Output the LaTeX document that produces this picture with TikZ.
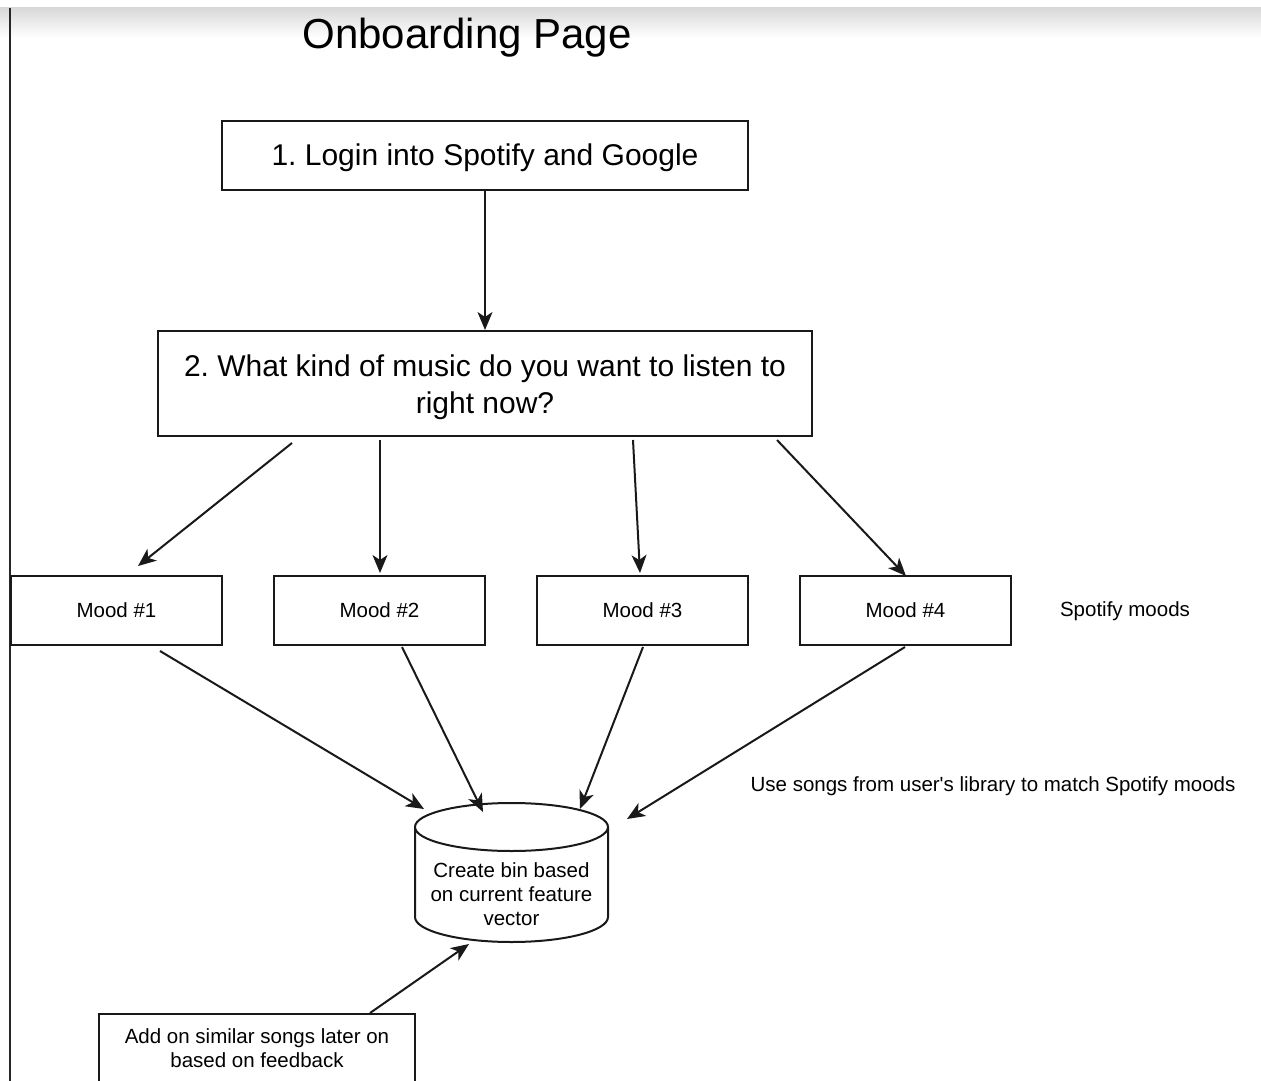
\documentclass[tikz,border=0pt]{standalone}
\usepackage{fontspec}
\setmainfont{Liberation Sans}
\usetikzlibrary{arrows.meta,calc}
\frenchspacing
\begin{document}
\begin{tikzpicture}[x=1pt,y=-1pt,
  box/.style={draw=black!90, line width=2pt, fill=white, inner sep=0pt, align=center},
  big/.style={font=\fontsize{30}{37}\selectfont},
  small/.style={font=\fontsize{20.5}{24}\selectfont},
  conn/.style={draw=black!90, line width=2pt, -{Stealth[length=18pt,width=15pt,inset=5pt]}}]
\useasboundingbox (0,0) rectangle (1261,1081);
\clip (0,0) rectangle (1261,1081);
\fill[white] (0,0) rectangle (1261,1081);
\shade[top color=black!15, bottom color=white] (0,8) rectangle (1261,38);
\draw[line width=2.2pt, black!85] (10,8) -- (10,1081);

\node[font=\fontsize{42}{48}\selectfont] (title) at (467,38) {Onboarding Page};

\node[box, minimum width=526, minimum height=69] (b1) at (485,155.5) {};
\node[big] (b1t) at (485,157.5) {1. Login into Spotify and Google};
\node[box, minimum width=654, minimum height=105] (b2) at (485,383.5) {};
\node[big, align=center] (b2t) at (485,387) {2. What kind of music do you want to listen to\\right now?};

\node[box, small, minimum width=211, minimum height=69] (m1) at (116.5,610.5) {Mood \#1};
\node[box, small, minimum width=211, minimum height=69] (m2) at (379.5,610.5) {Mood \#2};
\node[box, small, minimum width=211, minimum height=69] (m3) at (642.5,610.5) {Mood \#3};
\node[box, small, minimum width=211, minimum height=69] (m4) at (905.5,610.5) {Mood \#4};

\node[small] (sm) at (1125,611) {Spotify moods};
\node[small] (use) at (993,786) {Use songs from user\textquotesingle s library to match Spotify moods};

% cylinder
\draw[line width=2pt, draw=black!90, fill=white] (415,827) -- (415,917) arc[start angle=180, end angle=0, x radius=96.5, y radius=25] -- (608,827);
\draw[line width=2pt, draw=black!90, fill=white] (511.5,827) ellipse[x radius=96.5, y radius=24];
\node[small, align=center] (cyl) at (511.5,894) {Create bin based\\on current feature\\vector};

\node[box, minimum width=316, minimum height=110, anchor=north] (b5) at (257,1013) {};
\node[small, align=center] (b5t) at (257,1048) {Add on similar songs later on\\based on feedback};

% connector end points
\coordinate (c1s) at (292,443);
\coordinate (c1e) at (138,566);
\coordinate (c2s) at (380,440);
\coordinate (c2e) at (380,573);
\coordinate (c3s) at (633,440);
\coordinate (c3e) at (640,573);
\coordinate (c4s) at (777,440);
\coordinate (c4e) at (906,576);
\coordinate (d1s) at (160,651);
\coordinate (d1e) at (424,809);
\coordinate (d2s) at (402,647);
\coordinate (d2e) at (483,812);
\coordinate (d3s) at (643,647);
\coordinate (d3e) at (580,809);
\coordinate (d4s) at (905,647);
\coordinate (d4e) at (627,819);
\coordinate (e1s) at (370,1013);
\coordinate (e1e) at (469,944);

\draw[conn] (b1.south) -- (b2.north);
\draw[conn] (c1s) -- (c1e);
\draw[conn] (c2s) -- (c2e);
\draw[conn] (c3s) -- (c3e);
\draw[conn] (c4s) -- (c4e);
\draw[conn] (d1s) -- (d1e);
\draw[conn] (d2s) -- (d2e);
\draw[conn] (d3s) -- (d3e);
\draw[conn] (d4s) -- (d4e);
\draw[conn] (e1s) -- (e1e);
\end{tikzpicture}
\end{document}
